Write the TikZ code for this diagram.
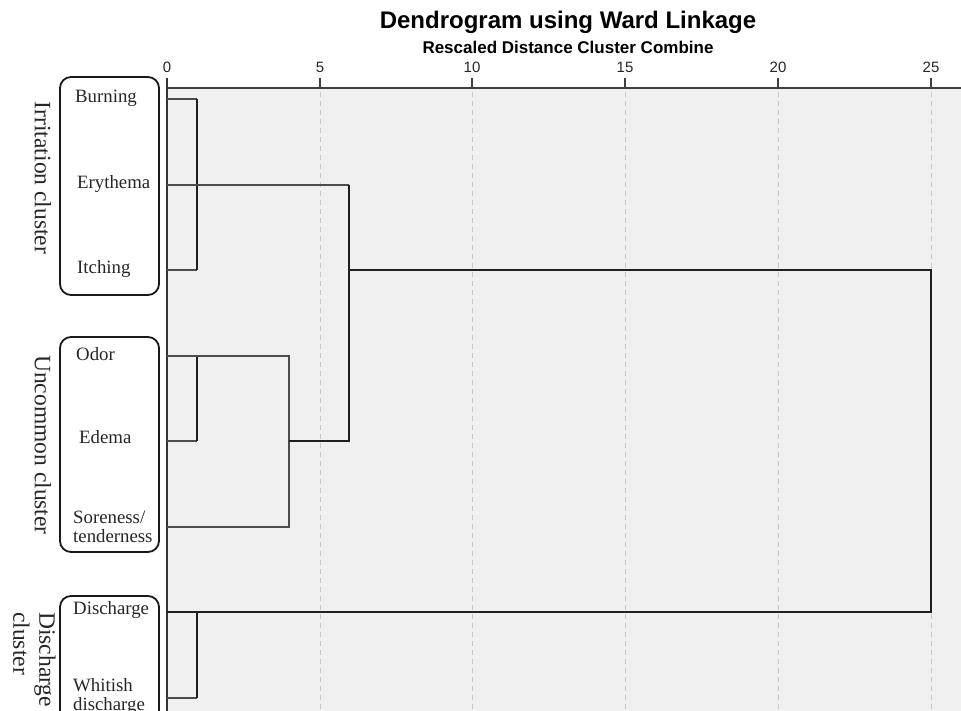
\documentclass[tikz,border=0pt]{standalone}
\usepackage{fontspec}
\setmainfont{Liberation Serif}
\setsansfont{Liberation Sans}
\begin{document}
\begin{tikzpicture}[x=1pt,y=-1pt,
  leaf/.style={font=\fontsize{18.8}{19}\selectfont, anchor=west, inner sep=0pt, align=left, text=black!85},
  clabel/.style={font=\fontsize{23.5}{26}\selectfont, rotate=-90, inner sep=0pt, align=center, text=black!85},
  cbox/.style={draw=black!90, line width=1.8pt, rounded corners=11pt},
  grid/.style={draw=black!22, line width=1pt, dash pattern=on 5pt off 4pt},
  tick/.style={font=\sffamily\fontsize{15}{15}\selectfont, inner sep=0pt, text=black!85},
  thinl/.style={draw=black!70, line width=1.3pt},
  thickl/.style={draw=black!88, line width=1.9pt}]
\clip (0,0) rectangle (961,711);
\fill[white] (0,0) rectangle (961,711);
\fill[black!6] (167,88) rectangle (961,711);
% title
\node[font=\sffamily\bfseries\fontsize{24}{24}\selectfont, inner sep=0pt] (title) at (568,22) {Dendrogram using Ward Linkage};
\node[font=\sffamily\bfseries\fontsize{17}{17}\selectfont, inner sep=0pt] (subtitle) at (568,47) {Rescaled Distance Cluster Combine};
% grid and ticks
\foreach \v/\px in {0/167,5/320,10/472,15/625,20/778,25/931}{
  \node[tick] (t\v) at (\px,67) {\v};
  \draw[black!75, line width=1.5pt] (\px,78) -- (\px,88);
}
\foreach \px in {320,472,625,778,931}{
  \draw[grid] (\px,92) -- (\px,711);
}
\draw[black!75, line width=2pt] (167,88) -- (961,88);
\draw[black!80, line width=2pt] (167,78) -- (167,711);
% cluster boxes
\draw[cbox] (60,77) rectangle (159,295);
\draw[cbox] (60,337) rectangle (159,552);
\draw[cbox] (60,596) rectangle (159,730);
% cluster labels
\node[clabel] (irr) at (43,178) {Irritation cluster};
\node[clabel] (unc) at (43,445) {Uncommon cluster};
\node[clabel, align=left, anchor=north west] (dis) at (56,612) {Discharge\\cluster};
% leaf labels
\node[leaf] (Lb) at (75,98) {Burning};
\node[leaf] (Le) at (77,184) {Erythema};
\node[leaf] (Li) at (77,269) {Itching};
\node[leaf] (Lo) at (76,354) {Odor};
\node[leaf] (Led) at (79,437) {Edema};
\node[leaf] (Ls) at (73,527) {Soreness/\\tenderness};
\node[leaf] (Ld) at (73,610) {Discharge};
\node[leaf] (Lw) at (73,697) {Whitish\\discharge};
% leaf endpoints
\coordinate (b) at (167,99);
\coordinate (e) at (167,185);
\coordinate (i) at (167,270);
\coordinate (o) at (167,356);
\coordinate (ed) at (167,441);
\coordinate (s) at (167,527);
\coordinate (d) at (167,612);
\coordinate (w) at (167,698);
% merges
\coordinate (m1) at (197,270);
\coordinate (m2) at (197,441);
\coordinate (m3) at (289,527);
\coordinate (m4) at (349,441);
\coordinate (m5) at (197,698);
\coordinate (m6) at (931,612);
% Burning-Itching
\draw[thinl] (b) -- (b -| m1);
\draw[thinl] (i) -- (m1);
\draw[thickl] (b -| m1) -- (m1);
% Odor-Edema
\draw[thinl] (ed) -- (m2);
\draw[thickl] (o -| m2) -- (m2);
% Odor-Edema-Soreness
\draw[thinl] (o) -- (o -| m3) -- (m3) -- (s);
% Erythema + uncommon
\draw[thinl] (e) -- (e -| m4);
\draw[thickl] (e -| m4) -- (m4) -- (m3 |- m4);
% Discharge pair
\draw[thinl] (w) -- (m5);
\draw[thickl] (d -| m5) -- (m5);
% top merge
\draw[thickl] (i -| m4) -- (i -| m6) -- (m6) -- (d);
\end{tikzpicture}
\end{document}
